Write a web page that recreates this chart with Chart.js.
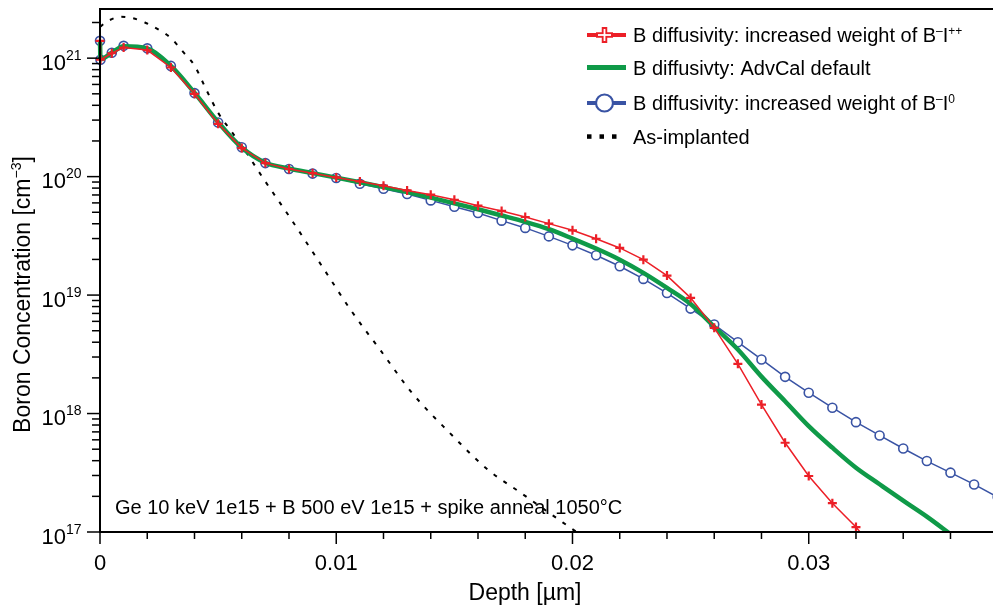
<!DOCTYPE html>
<html>
<head>
<meta charset="utf-8">
<script src="https://cdn.jsdelivr.net/npm/chart.js@4.4.0/dist/chart.umd.min.js"></script>
<style>
  html, body { margin: 0; padding: 0; background: #fff; }
  #wrap { width: 993px; height: 607px; }
</style>
</head>
<body>
<div id="wrap"><canvas id="boronChart" width="993" height="607"></canvas></div>
<script>
// depth in um
const depth = [0, 0.00002, 0.0005, 0.001, 0.002, 0.003, 0.004, 0.005, 0.006, 0.007, 0.008, 0.009,
  0.010, 0.011, 0.012, 0.013, 0.014, 0.015, 0.016, 0.017, 0.018, 0.019, 0.020, 0.021, 0.022, 0.023,
  0.024, 0.025, 0.026, 0.027, 0.028, 0.029, 0.030, 0.031, 0.032, 0.033, 0.034, 0.035, 0.036, 0.037, 0.038];

// B diffusivity: increased weight of B-I++
const concBIpp = [1.4e21, 9.7e20, 1.10e21, 1.23e21, 1.17e21, 8.34e20, 5.0e20, 2.79e20, 1.74e20, 1.30e20,
  1.16e20, 1.07e20, 9.85e19, 9.11e19, 8.38e19, 7.65e19, 7.04e19, 6.38e19, 5.68e19, 5.13e19, 4.56e19,
  4.01e19, 3.52e19, 2.99e19, 2.50e19, 1.99e19, 1.46e19, 9.47e18, 5.29e18, 2.63e18, 1.19e18, 5.67e17,
  2.97e17, 1.75e17, 1.10e17, 6.3e16, null, null, null, null, null];

// B diffusivty: AdvCal default
const concDefault = [1.4e21, 9.8e20, 1.11e21, 1.26e21, 1.21e21, 8.6e20, 5.1e20, 2.88e20, 1.76e20, 1.31e20,
  1.17e20, 1.07e20, 9.8e19, 8.95e19, 8.15e19, 7.4e19, 6.65e19, 5.95e19, 5.3e19, 4.7e19, 4.15e19,
  3.6e19, 3.0e19, 2.47e19, 1.99e19, 1.54e19, 1.15e19, 8.4e18, 5.4e18, 3.47e18, 2.05e18, 1.27e18,
  7.83e17, 5.15e17, 3.49e17, 2.53e17, 1.84e17, 1.35e17, 9.6e16, null, null];

// B diffusivity: increased weight of B-I0
const concBI0 = [1.4e21, 9.7e20, 1.11e21, 1.27e21, 1.21e21, 8.6e20, 5.07e20, 2.86e20, 1.77e20, 1.30e20,
  1.16e20, 1.06e20, 9.73e19, 8.71e19, 7.90e19, 7.13e19, 6.30e19, 5.57e19, 4.93e19, 4.25e19, 3.69e19,
  3.13e19, 2.63e19, 2.17e19, 1.75e19, 1.37e19, 1.04e19, 7.69e18, 5.64e18, 4.0e18, 2.86e18, 2.04e18,
  1.50e18, 1.12e18, 8.46e17, 6.53e17, 5.07e17, 3.97e17, 3.17e17, 2.52e17, 1.97e17];

// as-implanted profile
const implantDepth = [0, 0.0003, 0.0009, 0.0014, 0.0019, 0.0025, 0.003, 0.0035, 0.004, 0.0045, 0.005,
  0.0056, 0.0062, 0.0069, 0.0081, 0.0094, 0.0106, 0.0119, 0.0132, 0.0148, 0.0164, 0.0178, 0.0196, 0.0205];
const implantConc = [1.84e21, 2.04e21, 2.24e21, 2.17e21, 2.0e21, 1.73e21, 1.48e21, 1.14e21, 8.65e20,
  5.41e20, 3.46e20, 2.35e20, 1.59e20, 9.73e19, 4.34e19, 1.75e19, 7.55e18, 3.36e18, 1.5e18, 6.88e17,
  3.38e17, 2.15e17, 1.2e17, 9.0e16];

const xTickValues = [0, 0.01, 0.02, 0.03];
const xTickLabels = ['0', '0.01', '0.02', '0.03'];
const yExponents = [17, 18, 19, 20, 21];

const RED = '#ec1f27';
const GREEN = '#0f9a48';
const BLUE = '#3953a4';
const FONT = '"Liberation Sans", Arial, Helvetica, sans-serif';

function pairs(xs, ys) {
  return xs.map((x, i) => ({ x: x, y: ys[i] }));
}

// draws text made of [text, size, rise] pieces
function drawRich(ctx, parts, x, y, align) {
  let w = 0;
  parts.forEach(p => { ctx.font = p[1] + 'px ' + FONT; w += ctx.measureText(p[0]).width; });
  let cx = align === 'center' ? x - w / 2 : (align === 'right' ? x - w : x);
  ctx.textAlign = 'left';
  ctx.textBaseline = 'alphabetic';
  parts.forEach(p => {
    ctx.font = p[1] + 'px ' + FONT;
    ctx.fillText(p[0], cx, y - (p[2] || 0));
    cx += ctx.measureText(p[0]).width;
  });
}

function line(ctx, x1, y1, x2, y2) {
  ctx.beginPath(); ctx.moveTo(x1, y1); ctx.lineTo(x2, y2); ctx.stroke();
}

const decoPlugin = {
  id: 'deco',
  afterDraw(chart) {
    const ctx = chart.ctx, a = chart.chartArea;
    const xs = chart.scales.x, ys = chart.scales.y;
    ctx.save();
    ctx.strokeStyle = '#000';
    ctx.fillStyle = '#000';

    // frame
    ctx.lineWidth = 2;
    line(ctx, a.left, a.top, a.right, a.top);
    line(ctx, a.left, a.top - 1, a.left, a.bottom + 1);
    line(ctx, a.left - 1, a.bottom, a.right, a.bottom);

    // y ticks, major + minor
    ctx.lineWidth = 1.5;
    yExponents.forEach(e => {
      for (let m = 1; m <= 9; m++) {
        const v = m * Math.pow(10, e);
        if (v > ys.max) break;
        const py = ys.getPixelForValue(v);
        line(ctx, a.left - (m === 1 ? 13 : 8), py, a.left, py);
      }
    });
    // x ticks
    for (let i = 0; i * 0.002 <= xs.max + 1e-9; i++) {
      const px = xs.getPixelForValue(i * 0.002);
      line(ctx, px, a.bottom, px, a.bottom + (i % 5 === 0 ? 12 : 7));
    }

    // tick labels
    yExponents.forEach(e => {
      const py = ys.getPixelForValue(Math.pow(10, e));
      drawRich(ctx, [['10', 22, 0]], 66, py + 11.5, 'right');
      drawRich(ctx, [[String(e), 14, 0]], 66, py + 1.8, 'left');
    });
    xTickValues.forEach((v, i) => {
      drawRich(ctx, [[xTickLabels[i], 22, 0]], xs.getPixelForValue(v), 569.5, 'center');
    });

    // axis titles
    drawRich(ctx, [['Depth [\u00b5m]', 23, 0]], 525, 600, 'center');
    ctx.save();
    ctx.translate(30, 294.5);
    ctx.rotate(-Math.PI / 2);
    drawRich(ctx, [['Boron Concentration [cm', 23, 0], ['\u22123', 14, 9.5], [']', 23, 0]], 0, 0, 'center');
    ctx.restore();

    // annotation
    drawRich(ctx, [['Ge 10 keV 1e15 + B 500 eV 1e15 + spike anneal 1050\u00b0C', 20, 0]], 115, 514, 'left');

    // legend
    const lx1 = 587, lx2 = 626, tx = 633;
    // red
    ctx.strokeStyle = RED; ctx.lineWidth = 4;
    line(ctx, lx1, 35, lx2, 35);
    ctx.lineWidth = 5.5;
    line(ctx, 604.5, 27, 604.5, 43); line(ctx, 596, 35, 613, 35);
    ctx.strokeStyle = '#fff'; ctx.lineWidth = 1.8;
    line(ctx, 604.5, 29, 604.5, 41); line(ctx, 598, 35, 611, 35);
    // green
    ctx.strokeStyle = GREEN; ctx.lineWidth = 5;
    line(ctx, lx1, 67.5, lx2, 67.5);
    // blue
    ctx.strokeStyle = BLUE; ctx.lineWidth = 4;
    line(ctx, lx1, 103, lx2, 103);
    ctx.fillStyle = '#fff'; ctx.lineWidth = 2.2;
    ctx.beginPath(); ctx.arc(604.5, 103, 8.5, 0, Math.PI * 2); ctx.fill(); ctx.stroke();
    // black dots
    ctx.fillStyle = '#000';
    [587, 599.5, 612].forEach(x => ctx.fillRect(x, 134.3, 4.5, 4.5));

    ctx.fillStyle = '#000';
    drawRich(ctx, [['B diffusivity: increased weight of B', 20, 0], ['\u2013', 12, 7], ['I', 20, 0], ['++', 12, 7]], tx, 42, 'left');
    drawRich(ctx, [['B diffusivty: AdvCal default', 20, 0]], tx, 74.5, 'left');
    drawRich(ctx, [['B diffusivity: increased weight of B', 20, 0], ['\u2013', 12, 7], ['I', 20, 0], ['0', 12, 7]], tx, 110, 'left');
    drawRich(ctx, [['As-implanted', 20, 0]], tx, 143.5, 'left');

    ctx.restore();
  }
};

const clipArea = { left: 8, top: 0, right: 0, bottom: 0 };

const data = {
  datasets: [
    {
      label: 'B diffusivity: increased weight of B-I++',
      data: pairs(depth, concBIpp),
      borderColor: RED,
      borderWidth: 1.5,
      pointStyle: 'cross',
      pointRadius: 4.5,
      pointBorderWidth: 2.2,
      pointBorderColor: RED,
      pointBackgroundColor: RED,
      clip: clipArea
    },
    {
      label: 'B diffusivty: AdvCal default',
      data: pairs(depth, concDefault),
      borderColor: GREEN,
      borderWidth: 4.5,
      pointRadius: 0,
      cubicInterpolationMode: 'monotone',
      clip: clipArea
    },
    {
      label: 'B diffusivity: increased weight of B-I0',
      data: pairs(depth, concBI0),
      borderColor: BLUE,
      borderWidth: 1.5,
      pointStyle: 'circle',
      pointRadius: 4.5,
      pointBorderWidth: 1.6,
      pointBorderColor: BLUE,
      pointBackgroundColor: '#fff',
      clip: clipArea
    },
    {
      label: 'As-implanted',
      data: pairs(implantDepth, implantConc),
      borderColor: '#000',
      borderWidth: 2,
      borderDash: [4, 8],
      pointRadius: 0,
      cubicInterpolationMode: 'monotone',
      clip: clipArea
    }
  ]
};

const config = {
  type: 'line',
  data: data,
  options: {
    responsive: false,
    animation: false,
    layout: { autoPadding: false, padding: { top: 9, right: 0, left: 0, bottom: 0 } },
    plugins: {
      legend: { display: false },
      tooltip: { enabled: false }
    },
    scales: {
      x: {
        type: 'linear',
        min: 0,
        max: 0.0378,
        ticks: { display: false },
        grid: { display: false },
        border: { display: false },
        afterFit: s => { s.height = 75; }
      },
      y: {
        type: 'logarithmic',
        min: 1e17,
        max: 2.6e21,
        ticks: { display: false },
        grid: { display: false },
        border: { display: false },
        afterFit: s => { s.width = 100; }
      }
    }
  },
  plugins: [decoPlugin]
};

const ctx = document.getElementById('boronChart').getContext('2d');
window.boronChartInstance = new Chart(ctx, config);
</script>
</body>
</html>
